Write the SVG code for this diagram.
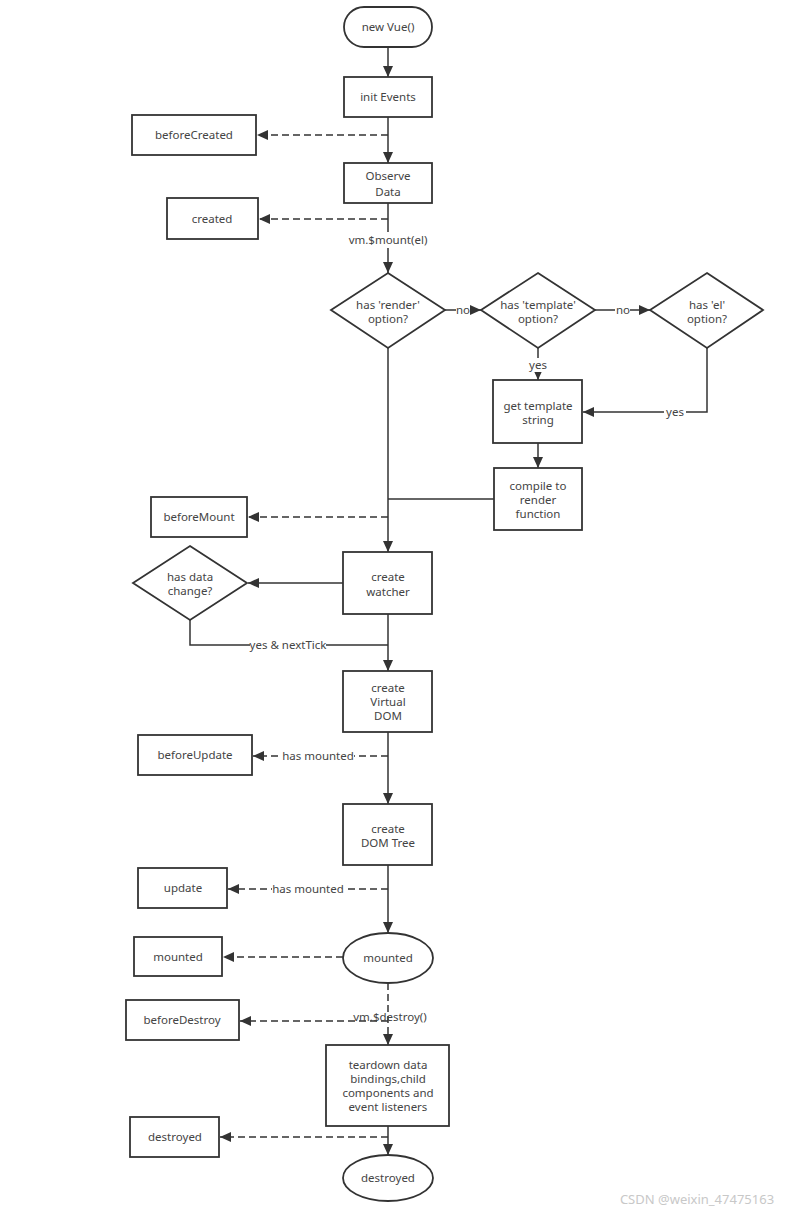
<svg xmlns="http://www.w3.org/2000/svg" width="807" height="1216" viewBox="0 0 807 1216">
<style>
.n{fill:#fff;stroke:#333;stroke-width:1.8}
.t{font-family:"Noto Sans","Open Sans","DejaVu Sans",sans-serif;font-size:11.5px;fill:#444;text-anchor:middle}
.c{fill:none;stroke:#333;stroke-width:1.5}
.d{fill:none;stroke:#333;stroke-width:1.5;stroke-dasharray:7,4}
.lb{fill:#fff}
</style>
<defs>
<marker id="ah" markerUnits="userSpaceOnUse" markerWidth="12" markerHeight="10" refX="11" refY="5" orient="auto">
<path d="M0,0 L11,5 L0,10 z" fill="#333"/>
</marker>
</defs>
<rect width="807" height="1216" fill="#fff"/>
<g id="connectors">
<path class="c" d="M388,47 V77" marker-end="url(#ah)"/>
<path class="c" d="M388,117 V163" marker-end="url(#ah)"/>
<path class="d" d="M388,135 H257" marker-end="url(#ah)"/>
<path class="d" d="M388,219 H259" marker-end="url(#ah)"/>
<path class="c" d="M388,203 V273" marker-end="url(#ah)"/>
<path class="c" d="M445,310 H481" marker-end="url(#ah)"/>
<path class="c" d="M595,310 H650" marker-end="url(#ah)"/>
<path class="c" d="M538,348 V380" marker-end="url(#ah)"/>
<path class="c" d="M707,348 V412 H583" marker-end="url(#ah)"/>
<path class="c" d="M538,443 V468" marker-end="url(#ah)"/>
<path class="c" d="M494,499 H388"/>
<path class="c" d="M388,348 V552" marker-end="url(#ah)"/>
<path class="d" d="M388,517 H248" marker-end="url(#ah)"/>
<path class="c" d="M343,583 H248" marker-end="url(#ah)"/>
<path class="c" d="M190,620 V645 H388"/>
<path class="c" d="M388,614 V671" marker-end="url(#ah)"/>
<path class="c" d="M388,732 V804" marker-end="url(#ah)"/>
<path class="d" d="M388,756 H253" marker-end="url(#ah)"/>
<path class="c" d="M388,865 V933" marker-end="url(#ah)"/>
<path class="d" d="M388,889 H228" marker-end="url(#ah)"/>
<path class="d" d="M343,957 H223" marker-end="url(#ah)"/>
<path class="d" d="M388,983 V1045" marker-end="url(#ah)"/>
<path class="d" d="M388,1021 H240" marker-end="url(#ah)"/>
<path class="c" d="M388,1126 V1155" marker-end="url(#ah)"/>
<path class="d" d="M388,1137 H220" marker-end="url(#ah)"/>
<rect class="lb" x="347" y="232" width="82" height="16"/>
<text class="t" x="388" y="244">vm.$mount(el)</text>
<rect class="lb" x="456" y="303" width="14" height="14"/>
<text class="t" x="463" y="314">no</text>
<rect class="lb" x="615" y="303" width="15" height="14"/>
<text class="t" x="623" y="314">no</text>
<rect class="lb" x="527" y="358" width="22" height="14"/>
<text class="t" x="538" y="369">yes</text>
<rect class="lb" x="664" y="405" width="22" height="14"/>
<text class="t" x="675" y="416">yes</text>
<rect class="lb" x="250" y="638" width="76" height="14"/>
<text class="t" x="288" y="649">yes &amp; nextTick</text>
<rect class="lb" x="282" y="749" width="72" height="14"/>
<text class="t" x="318" y="760">has mounted</text>
<rect class="lb" x="272" y="882" width="72" height="14"/>
<text class="t" x="308" y="893">has mounted</text>
<text class="t" x="390" y="1021">vm.$destroy()</text>
</g>
<g id="newVue"><rect class="n" x="344" y="7" width="88" height="40" rx="20"/><text class="t" x="388" y="31">new Vue()</text></g>
<g id="initEvents"><rect class="n" x="344" y="77" width="88" height="40"/><text class="t" x="388" y="101">init Events</text></g>
<g id="beforeCreated"><rect class="n" x="132" y="115" width="124" height="40"/><text class="t" x="194" y="139">beforeCreated</text></g>
<g id="observeData"><rect class="n" x="344" y="163" width="88" height="40"/><text class="t" x="388" y="180">Observe</text><text class="t" x="388" y="196">Data</text></g>
<g id="created"><rect class="n" x="167" y="198" width="91" height="41"/><text class="t" x="212" y="223">created</text></g>
<g id="hasRender"><polygon class="n" points="388,273 445,310 388,348 331,310"/><text class="t" x="388" y="309">has 'render'</text><text class="t" x="388" y="323">option?</text></g>
<g id="hasTemplate"><polygon class="n" points="538,273 595,310 538,348 481,310"/><text class="t" x="538" y="309">has 'template'</text><text class="t" x="538" y="323">option?</text></g>
<g id="hasEl"><polygon class="n" points="707,273 763,310 707,348 650,310"/><text class="t" x="707" y="309">has 'el'</text><text class="t" x="707" y="323">option?</text></g>
<g id="getTemplate"><rect class="n" x="493" y="380" width="89" height="63"/><text class="t" x="538" y="410">get template</text><text class="t" x="538" y="424">string</text></g>
<g id="compile"><rect class="n" x="494" y="468" width="88" height="62"/><text class="t" x="538" y="490">compile to</text><text class="t" x="538" y="504">render</text><text class="t" x="538" y="518">function</text></g>
<g id="beforeMount"><rect class="n" x="151" y="497" width="96" height="40"/><text class="t" x="199" y="521">beforeMount</text></g>
<g id="createWatcher"><rect class="n" x="343" y="552" width="89" height="62"/><text class="t" x="388" y="581">create</text><text class="t" x="388" y="596">watcher</text></g>
<g id="hasDataChange"><polygon class="n" points="190,546 247,583 190,620 133,583"/><text class="t" x="190" y="581">has data</text><text class="t" x="190" y="595">change?</text></g>
<g id="virtualDom"><rect class="n" x="343" y="671" width="89" height="61"/><text class="t" x="388" y="692">create</text><text class="t" x="388" y="706">Virtual</text><text class="t" x="388" y="720">DOM</text></g>
<g id="beforeUpdate"><rect class="n" x="138" y="735" width="114" height="40"/><text class="t" x="195" y="759">beforeUpdate</text></g>
<g id="domTree"><rect class="n" x="343" y="804" width="89" height="61"/><text class="t" x="388" y="833">create</text><text class="t" x="388" y="847">DOM Tree</text></g>
<g id="update"><rect class="n" x="138" y="868" width="89" height="40"/><text class="t" x="183" y="892">update</text></g>
<g id="mountedState"><ellipse class="n" cx="388" cy="958" rx="45" ry="25"/><text class="t" x="388" y="962">mounted</text></g>
<g id="mountedHook"><rect class="n" x="134" y="937" width="88" height="39"/><text class="t" x="178" y="961">mounted</text></g>
<g id="beforeDestroy"><rect class="n" x="126" y="1000" width="113" height="40"/><text class="t" x="182" y="1024">beforeDestroy</text></g>
<g id="teardown"><rect class="n" x="326" y="1045" width="123" height="81"/><text class="t" x="388" y="1069">teardown data</text><text class="t" x="388" y="1083">bindings,child</text><text class="t" x="388" y="1097">components and</text><text class="t" x="388" y="1111">event listeners</text></g>
<g id="destroyedHook"><rect class="n" x="130" y="1117" width="89" height="40"/><text class="t" x="175" y="1141">destroyed</text></g>
<g id="destroyedState"><ellipse class="n" cx="388" cy="1178" rx="45" ry="23"/><text class="t" x="388" y="1182">destroyed</text></g>
<text x="697" y="1204" font-family="'Noto Sans','DejaVu Sans',sans-serif" font-size="13" fill="#c8c8c8" text-anchor="middle">CSDN @weixin_47475163</text>
</svg>
